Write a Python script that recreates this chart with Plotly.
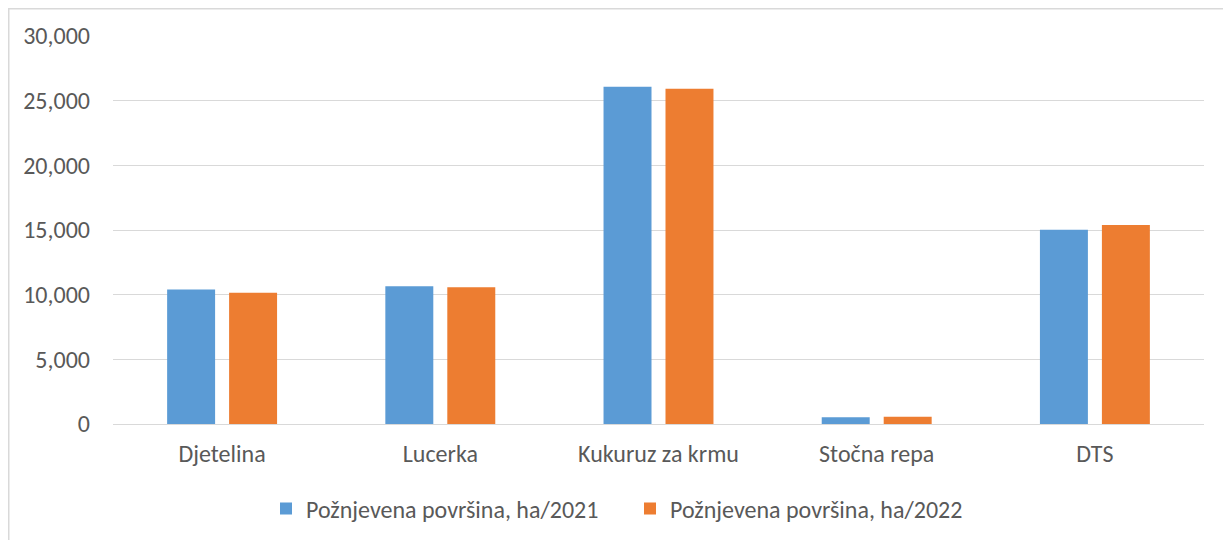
import plotly.graph_objects as go

categories = ["Djetelina", "Lucerka", "Kukuruz za krmu", "Stočna repa", "DTS"]
series_2021_name = "Požnjevena površina, ha/2021"
series_2022_name = "Požnjevena površina, ha/2022"
values_2021 = [10390, 10645, 26085, 515, 15020]
values_2022 = [10155, 10565, 25930, 568, 15390]
y_ticks = [0, 5000, 10000, 15000, 20000, 25000, 30000]

FONT = "Calibri, Carlito, Lato, sans-serif"
TXT = "#595959"
FS = 24

fig = go.Figure()
fig.add_trace(go.Bar(x=categories, y=values_2021, name=series_2021_name,
                     marker=dict(color="#5B9BD5", line=dict(width=0))))
fig.add_trace(go.Bar(x=categories, y=values_2022, name=series_2022_name,
                     marker=dict(color="#ED7D31", line=dict(width=0))))

# page has an 8px body margin; figure sized to fit the 1231x540 window
W, H = 1223, 532
ml, mr, mt, mb = 105, 27, 28, 116
pw, ph = W - ml - mr, H - mt - mb
bottom = mt + ph

fig.update_layout(
    width=W, height=H,
    margin=dict(l=ml, r=mr, t=mt, b=mb, pad=0, autoexpand=False),
    paper_bgcolor="white", plot_bgcolor="white",
    font=dict(family=FONT, size=FS, color=TXT),
    barmode="group", bargap=0.432, bargroupgap=0.226,
    showlegend=True,
    legend=dict(orientation="h", x=(258 - ml) / pw, xanchor="left",
                yref="container", y=(H - 501) / H, yanchor="middle",
                font=dict(family=FONT, size=FS, color=TXT),
                entrywidth=319, entrywidthmode="pixels",
                bgcolor="rgba(0,0,0,0)", traceorder="normal"),
    xaxis=dict(showgrid=False, showline=False, zeroline=False,
               tickfont=dict(family=FONT, size=FS, color=TXT),
               ticks="", ticklabelstandoff=13),
    yaxis=dict(range=[0, 30000], tickvals=y_ticks, tickformat=",d",
               showgrid=True, gridcolor="#D9D9D9", gridwidth=1.3,
               zeroline=True, zerolinecolor="#D9D9D9", zerolinewidth=1.3,
               showline=False, ticks="", ticklabelstandoff=22,
               tickfont=dict(family=FONT, size=FS, color=TXT)),
    shapes=[dict(type="rect", xref="paper", yref="paper",
                 x0=(0.75 - ml) / pw, x1=(W + 20 - ml) / pw,
                 y0=-(H + 20 - bottom) / ph, y1=(bottom - 0.75) / ph,
                 line=dict(color="#D9D9D9", width=1.5), layer="below")],
)

fig.write_html("out.html")
